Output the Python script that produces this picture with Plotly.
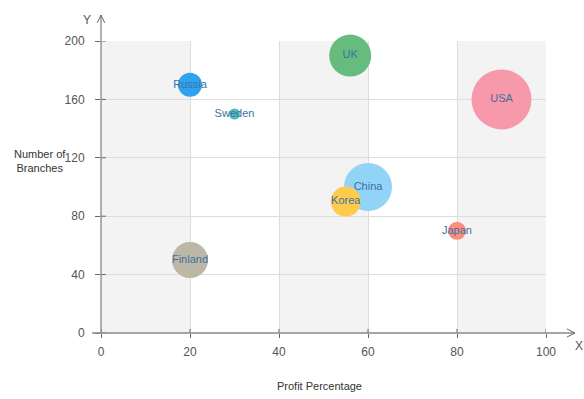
import plotly.graph_objects as go

countries = ["UK", "Russia", "Sweden", "USA", "China", "Korea", "Japan", "Finland"]
profit_pct = [56, 20, 30, 90, 60, 55, 80, 20]
branches = [190, 170, 150, 160, 100, 90, 70, 50]
bubble_values = [42, 24, 11, 60, 48, 30, 18, 36]
colors = ["#66bb7e", "#2ea3f2", "#4fbdbd", "#f799ab", "#92d4f7", "#fecb4f", "#fc8e7e", "#bdb8a6"]

x_ticks = [0, 20, 40, 60, 80, 100]
y_ticks = [0, 40, 80, 120, 160, 200]

FONT = "Liberation Sans, Arial, sans-serif"

fig = go.Figure()
fig.add_trace(go.Scatter(
    x=profit_pct, y=branches, mode="markers+text",
    text=countries, textposition="middle center",
    textfont=dict(family=FONT, size=11, color="#41709f"),
    marker=dict(size=bubble_values, sizemode="diameter", sizeref=1,
                color=colors, opacity=1, line=dict(width=0)),
    cliponaxis=False, hoverinfo="text",
))

shapes = []
for a, b in [(0, 20), (40, 60), (80, 100)]:
    shapes.append(dict(type="rect", xref="x", yref="paper", x0=a, x1=b, y0=0, y1=1,
                       fillcolor="#f3f3f3", line=dict(width=0), layer="below"))
# inner halves of the crossing tick marks
for v in y_ticks:
    shapes.append(dict(type="line", xref="paper", yref="y", x0=0, x1=0.011, y0=v, y1=v,
                       line=dict(color="#666666", width=1)))
for v in x_ticks:
    shapes.append(dict(type="line", xref="x", yref="paper", x0=v, x1=v, y0=0, y1=0.014,
                       line=dict(color="#666666", width=1)))
# axis lines with arrows
shapes.append(dict(type="line", xref="paper", yref="paper", x0=0, x1=0, y0=0, y1=1.089,
                   line=dict(color="#666666", width=1)))
shapes.append(dict(type="path", xref="paper", yref="paper",
                   path="M -0.0085,1.062 L 0,1.089 L 0.0085,1.062",
                   line=dict(color="#666666", width=1)))
shapes.append(dict(type="line", xref="paper", yref="paper", x0=-0.02, x1=1.065, y0=0, y1=0,
                   line=dict(color="#888888", width=1.5)))
shapes.append(dict(type="path", xref="paper", yref="paper",
                   path="M 1.047,0.014 L 1.065,0 L 1.047,-0.014",
                   line=dict(color="#666666", width=1)))

annotations = [
    dict(text="Y", xref="paper", yref="paper", x=-0.031, y=1.072, showarrow=False,
         font=dict(family=FONT, size=12, color="#555555"), xanchor="center", yanchor="middle"),
    dict(text="X", xref="paper", yref="paper", x=1.075, y=-0.045, showarrow=False,
         font=dict(family=FONT, size=12, color="#555555"), xanchor="center", yanchor="middle"),
    dict(text="Number of<br>Branches", xref="paper", yref="paper", x=-0.137, y=0.59,
         showarrow=False, font=dict(family=FONT, size=11, color="#333333"),
         xanchor="center", yanchor="middle", align="center"),
    dict(text="Profit Percentage", xref="paper", yref="paper", x=0.492, y=-0.181,
         showarrow=False, font=dict(family=FONT, size=11, color="#333333"),
         xanchor="center", yanchor="middle"),
]

fig.update_layout(
    width=584, height=399,
    margin=dict(l=101, r=38, t=41, b=66),
    paper_bgcolor="white", plot_bgcolor="white",
    showlegend=False,
    shapes=shapes, annotations=annotations,
    xaxis=dict(range=[0, 100], tickvals=x_ticks, ticktext=[str(v) for v in x_ticks],
               showgrid=True, gridcolor="#dddddd", gridwidth=1, zeroline=False,
               showline=False, ticks="outside", ticklen=4, tickcolor="#666666",
               ticklabelstandoff=4,
               tickfont=dict(family=FONT, size=12, color="#555555"), fixedrange=True),
    yaxis=dict(range=[0, 200], tickvals=y_ticks, ticktext=[str(v) for v in y_ticks],
               showgrid=True, gridcolor="#dddddd", gridwidth=1, zeroline=False,
               showline=False, ticks="outside", ticklen=5, tickcolor="#666666",
               ticklabelstandoff=8,
               tickfont=dict(family=FONT, size=12, color="#555555"), fixedrange=True),
)

fig.write_html("out.html")
